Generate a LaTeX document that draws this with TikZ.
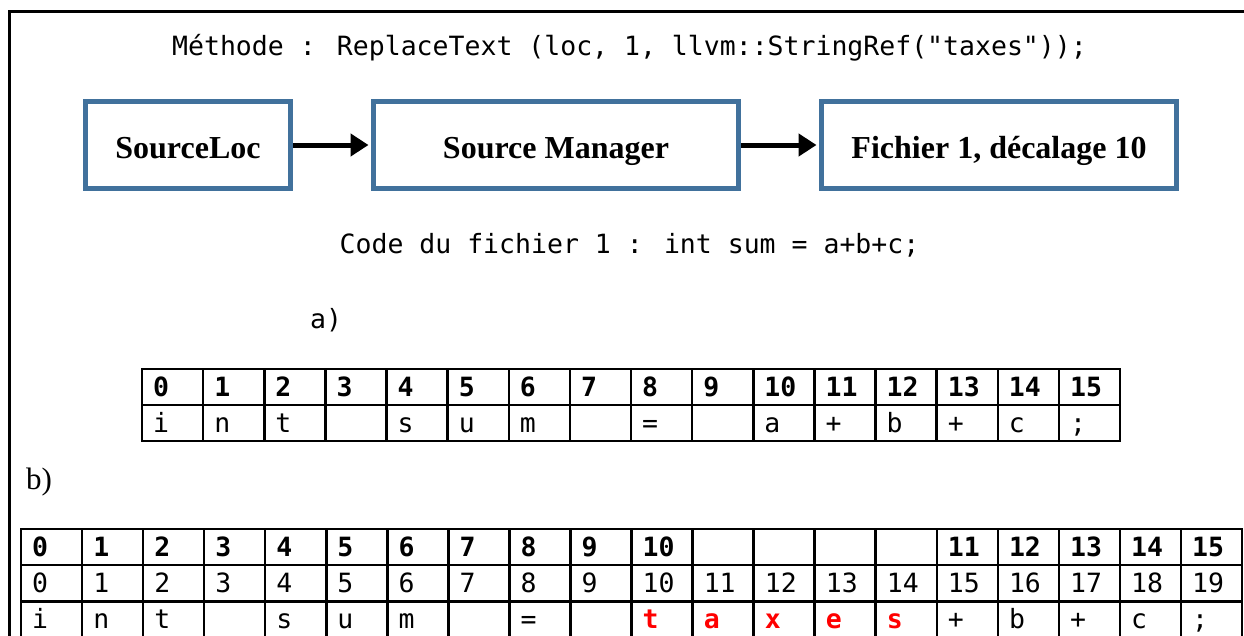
\documentclass[tikz,border=0pt]{standalone}
\usepackage{fontspec}
\setmainfont{Liberation Serif}
\newfontfamily\codefont{DejaVu Sans Mono}
\usetikzlibrary{arrows.meta}
\definecolor{boxblue}{RGB}{65,113,156}
\definecolor{hlred}{RGB}{255,0,0}
\tikzset{
  code/.style={font=\codefont\fontsize{26.5}{30}\selectfont, inner sep=0pt},
  codeb/.style={font=\codefont\bfseries\fontsize{26.5}{30}\selectfont, inner sep=0pt},
  codered/.style={codeb, text=hlred},
  stepbox/.style={draw=boxblue, line width=5pt, inner sep=0pt, minimum height=87pt,
     text height=26pt, text depth=0pt, font=\bfseries\fontsize{32}{36}\selectfont},
  flow/.style={line width=5pt, -{Triangle[length=18pt,width=22pt]}, shorten >=2.5pt},
  cell/.style={draw, line width=2.5pt, minimum height=36pt, inner sep=0pt, outer sep=0pt},
  frame/.style={line width=3pt}
}
\begin{document}
\begin{tikzpicture}[x=1pt,y=-1pt]
\useasboundingbox (0,0) rectangle (1244,635);
\fill[white] (0,0) rectangle (1244,635);
% frame
\coordinate (fbl) at (9.5,645);
\coordinate (ftl) at (9.5,11);
\coordinate (ftr) at (1255,11);
\draw[frame] (fbl) -- (ftl) -- (ftr);
% header
\node[code, anchor=base] (hdr) at (629.5,55) {Méthode : ReplaceText (loc, 1, llvm::StringRef("taxes"));};
% boxes
\node[stepbox, minimum width=205pt] (sl) at (188,145) {SourceLoc};
\node[stepbox, minimum width=365pt] (sm) at (556,145) {Source Manager};
\node[stepbox, minimum width=355pt] (fd) at (999,145) {Fichier 1, décalage 10};
\draw[flow] (sl) -- (sm);
\draw[flow] (sm) -- (fd);
% code line
\node[code, anchor=base] (cl) at (629.5,253) {Code du fichier 1 : int sum = a+b+c;};
\node[code, anchor=base west] (la) at (310,328) {a)};
\node[font=\fontsize{31}{35}\selectfont, inner sep=0pt, anchor=base west] (lb) at (26,489) {b)};
% table a
\foreach \t [count=\i from 0] in {0,1,2,3,4,5,6,7,8,9,10,11,12,13,14,15} {
  \node[cell, minimum width=61.125pt, anchor=north west] (a1-\i) at ({142+61.125*\i},369) {};
  \node[codeb, anchor=base west] (ta1-\i) at ([xshift=11pt,yshift=8.5pt]a1-\i.south west) {\t};
}
\foreach \t [count=\i from 0] in {i,n,t,{},s,u,m,{},=,{},a,+,b,+,c,;} {
  \node[cell, minimum width=61.125pt, anchor=north west] (a2-\i) at ({142+61.125*\i},405) {};
  \node[code, anchor=base west] (ta2-\i) at ([xshift=11pt,yshift=8.5pt]a2-\i.south west) {\t};
}
% table b
\foreach \t [count=\i from 0] in {0,1,2,3,4,5,6,7,8,9,10,{},{},{},{},11,12,13,14,15} {
  \node[cell, minimum width=61.05pt, anchor=north west] (b1-\i) at ({21+61.05*\i},529) {};
  \node[codeb, anchor=base west] (tb1-\i) at ([xshift=11pt,yshift=8.5pt]b1-\i.south west) {\t};
}
\foreach \t [count=\i from 0] in {0,1,2,3,4,5,6,7,8,9,10,11,12,13,14,15,16,17,18,19} {
  \node[cell, minimum width=61.05pt, anchor=north west] (b2-\i) at ({21+61.05*\i},565) {};
  \node[code, anchor=base west] (tb2-\i) at ([xshift=11pt,yshift=8.5pt]b2-\i.south west) {\t};
}
\foreach \t/\s [count=\i from 0] in {i/code,n/code,t/code,{}/code,s/code,u/code,m/code,{}/code,=/code,{}/code,
   t/codered,a/codered,x/codered,e/codered,s/codered,+/code,b/code,+/code,c/code,;/code} {
  \node[cell, minimum width=61.05pt, minimum height=36.5pt, anchor=north west] (b3-\i) at ({21+61.05*\i},601.5) {};
  \node[\s, anchor=base west] (tb3-\i) at ([xshift=11pt,yshift=10pt]b3-\i.south west) {\t};
}
\end{tikzpicture}
\end{document}
